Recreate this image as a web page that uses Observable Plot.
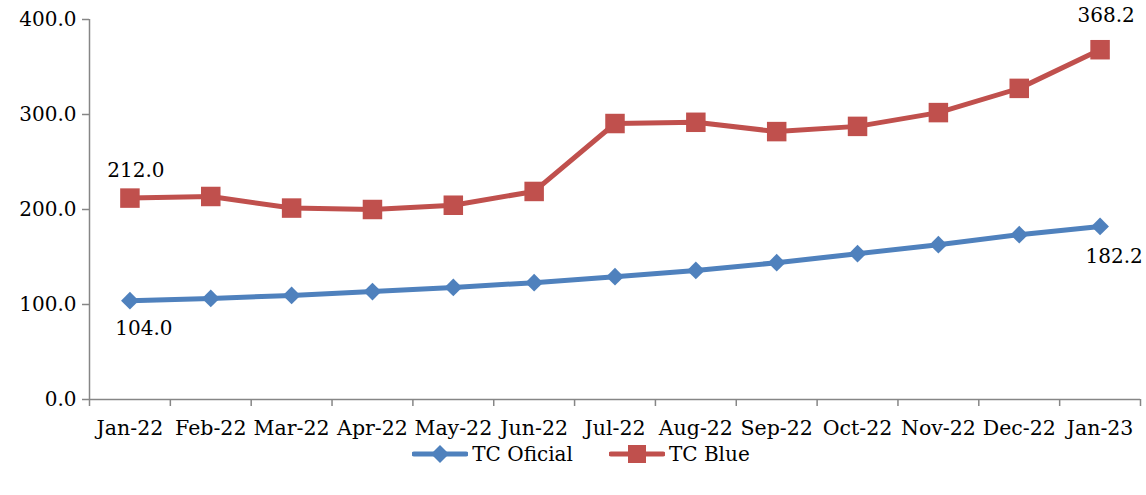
<!DOCTYPE html>
<html>
<head>
<meta charset="utf-8">
<script src="https://cdn.jsdelivr.net/npm/d3@7"></script>
<script src="https://cdn.jsdelivr.net/npm/@observablehq/plot@0.6"></script>
<style>
  html, body { margin: 0; padding: 0; background: #fff; }
  #chart { width: 1146px; }
  #chart svg { display: block; }
  .legend { position: relative; z-index: 2; margin-top: -9px; margin-bottom: 30px; width: 1146px; display: flex; justify-content: center; align-items: center; gap: 36px;
    font-family: "DejaVu Serif", serif; font-size: 20px; color: #000; height: 26px; padding-left: 16px; box-sizing: border-box;}
  .legend .item { display: flex; align-items: center; gap: 4px; }
</style>
</head>
<body>
<div id="chart"></div>
<script>
const months = ["Jan-22","Feb-22","Mar-22","Apr-22","May-22","Jun-22","Jul-22","Aug-22","Sep-22","Oct-22","Nov-22","Dec-22","Jan-23"];
const tcOficial = [104.0, 106.4, 109.5, 113.6, 118.0, 123.0, 129.3, 135.8, 144.0, 153.5, 163.0, 173.5, 182.2];
const tcBlue = [212.0, 213.7, 201.5, 200.0, 204.5, 219.0, 290.5, 291.8, 282.0, 287.5, 302.0, 327.5, 368.2];
const yTicks = [0, 100, 200, 300, 400];
const seriesNames = ["TC Oficial", "TC Blue"];
const colors = ["#4F81BD", "#C0504D"];

const oficialData = months.map((m, i) => ({i, month: m, value: tcOficial[i]}));
const blueData = months.map((m, i) => ({i, month: m, value: tcBlue[i]}));
const boundaries = d3.range(-0.5, months.length, 1);
const last = months.length - 1;

const font = "DejaVu Serif, serif";

const plot = Plot.plot({
  width: 1146,
  height: 450,
  marginLeft: 89,
  marginRight: 6,
  marginTop: 19,
  marginBottom: 51,
  style: {fontFamily: font, fontSize: "20px", color: "#000", background: "#fff", overflow: "visible"},
  x: {domain: [-0.5, months.length - 0.5]},
  y: {domain: [0, 400]},
  marks: [
    Plot.ruleY([0], {stroke: "#868686", strokeWidth: 1.5}),
    Plot.ruleX([-0.5], {stroke: "#868686", strokeWidth: 1.5}),
    Plot.axisY({ticks: yTicks, tickFormat: d => d.toFixed(1), tickSize: 7, tickPadding: 6, stroke: "#868686", strokeWidth: 1.5, fill: "#000", fontSize: 20, label: null}),
    Plot.axisX({ticks: boundaries, tickFormat: () => "", tickSize: 7, stroke: "#868686", strokeWidth: 1.5, label: null}),
    Plot.axisX({ticks: d3.range(months.length), tickFormat: i => months[i], tickSize: 0, tickPadding: 21, fill: "#000", fontSize: 20.5, label: null}),
    Plot.line(oficialData, {x: "i", y: "value", stroke: colors[0], strokeWidth: 5}),
    Plot.line(blueData, {x: "i", y: "value", stroke: colors[1], strokeWidth: 5}),
    Plot.dot(oficialData, {x: "i", y: "value", symbol: "diamond2", r: 8, fill: colors[0], stroke: null}),
    Plot.dot(blueData, {x: "i", y: "value", symbol: "square", r: 11, fill: colors[1], stroke: null}),
    Plot.text([blueData[0]], {x: "i", y: "value", text: d => d.value.toFixed(1), dy: -28, dx: 6, fill: "#000", fontSize: 20}),
    Plot.text([oficialData[0]], {x: "i", y: "value", text: d => d.value.toFixed(1), dy: 28, dx: 14, fill: "#000", fontSize: 20}),
    Plot.text([blueData[last]], {x: "i", y: "value", text: d => d.value.toFixed(1), dy: -34, dx: 6, fill: "#000", fontSize: 20}),
    Plot.text([oficialData[last]], {x: "i", y: "value", text: d => d.value.toFixed(1), dy: 30, dx: 14, fill: "#000", fontSize: 20})
  ]
});
document.getElementById("chart").appendChild(plot);

const legend = document.createElement("div");
legend.className = "legend";
const swatches = [
  `<svg width="56" height="22"><line x1="2" y1="11" x2="54" y2="11" stroke="${colors[0]}" stroke-width="5" stroke-linecap="round"/><path d="M28 2 L37 11 L28 20 L19 11 Z" fill="${colors[0]}"/></svg>`,
  `<svg width="56" height="22"><line x1="2" y1="11" x2="54" y2="11" stroke="${colors[1]}" stroke-width="5" stroke-linecap="round"/><rect x="19" y="2" width="18" height="18" fill="${colors[1]}"/></svg>`
];
seriesNames.forEach((name, k) => {
  const item = document.createElement("div");
  item.className = "item";
  item.innerHTML = swatches[k] + `<span>${name}</span>`;
  legend.appendChild(item);
});
document.getElementById("chart").appendChild(legend);
</script>
</body>
</html>
